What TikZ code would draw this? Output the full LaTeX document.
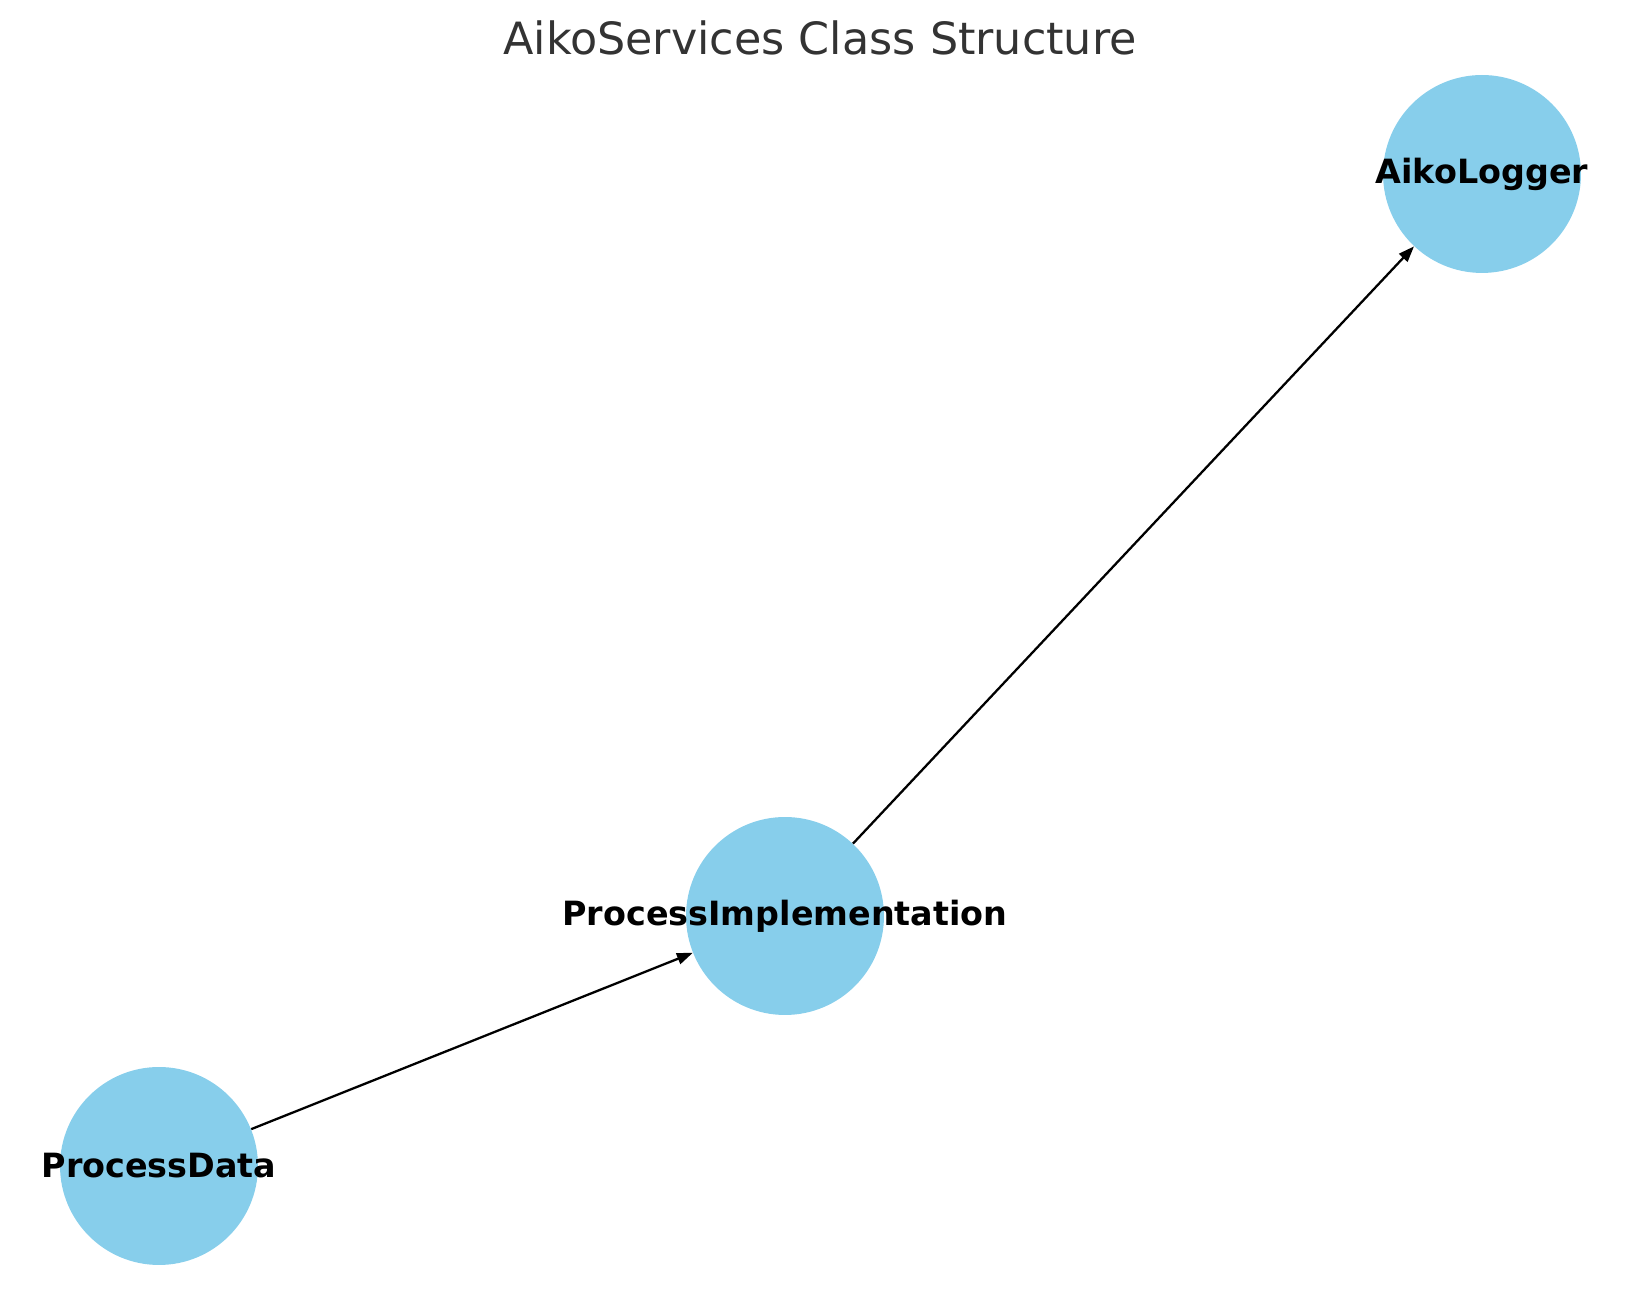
\documentclass[tikz,border=0pt]{standalone}
\usepackage{fontspec}
\setmainfont{DejaVu Sans}
\usetikzlibrary{arrows.meta}
\definecolor{nodeblue}{HTML}{87CEEB}
\definecolor{titlegray}{HTML}{333333}
\tikzset{
  classnode/.style={circle, fill=nodeblue, minimum size=3.96cm, inner sep=0pt},
  classlabel/.style={font=\fontsize{19}{22}\selectfont\bfseries, text=black},
  dep/.style={-{Triangle[length=9pt,width=6.5pt]}, line width=1.3pt}
}
\begin{document}
\begin{tikzpicture}[x=0.02cm, y=0.02cm]
% Fix the canvas
\useasboundingbox (0,0) rectangle (1639,1290);
% Title
\node[text=titlegray, font=\fontsize{25.3}{30}\selectfont] (title) at (820,1252) {AikoServices Class Structure};
% Draw the classes
\node[classnode, label={[classlabel]center:AikoLogger}] (logger) at (1482,1116) {};
\node[classnode, label={[classlabel]center:ProcessImplementation}] (impl) at (785,374) {};
\node[classnode, label={[classlabel]center:ProcessData}] (data) at (159,124) {};
% Draw the dependencies
\draw[dep] (data) -- (impl);
\draw[dep] (impl) -- (logger);
\end{tikzpicture}
\end{document}
